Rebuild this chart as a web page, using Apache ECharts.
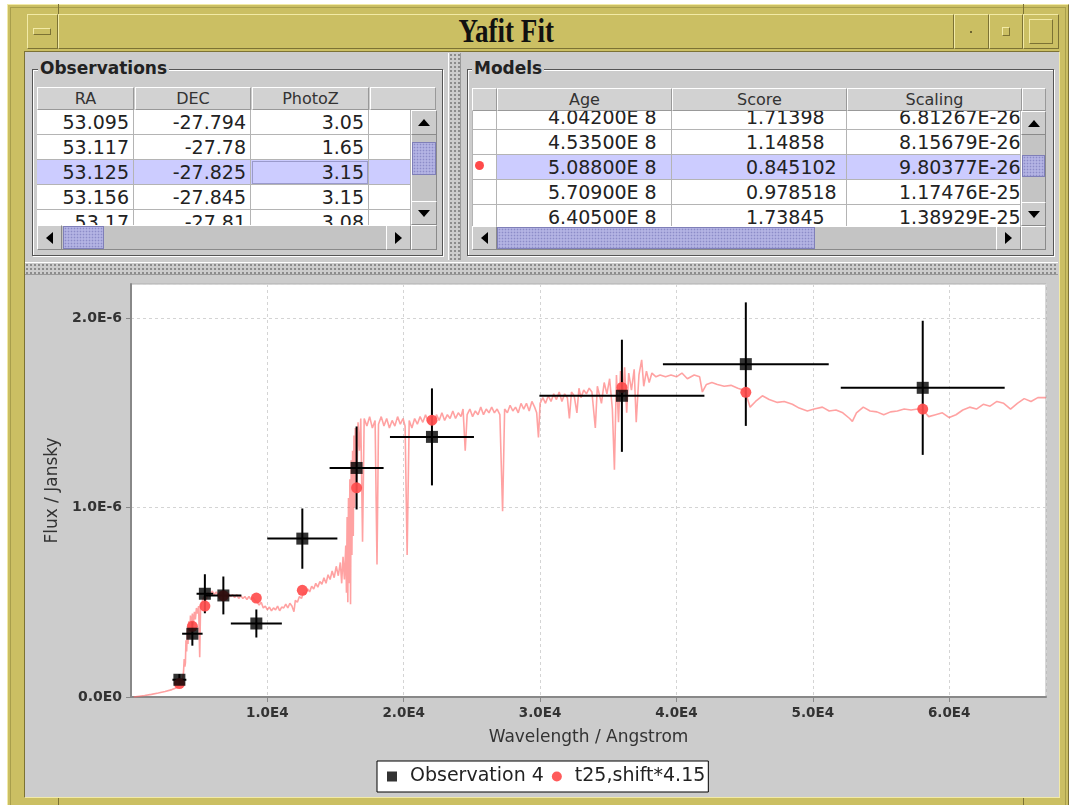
<!DOCTYPE html>
<html>
<head>
<meta charset="utf-8">
<title>Yafit Fit</title>
<script src="https://cdn.jsdelivr.net/npm/echarts@6/dist/echarts.min.js"></script>
<style>
html,body{margin:0;padding:0;width:1072px;height:805px;overflow:hidden;background:#fff;font-family:'DejaVu Sans',sans-serif;}
.a{position:absolute;box-sizing:border-box;}
.olive{background:#cbbf63;}
.oup{border-top:1px solid #f2eaa6;border-left:1px solid #f2eaa6;border-bottom:1px solid #7c7234;border-right:1px solid #7c7234;}
.up{border-top:1px solid #fff;border-left:1px solid #fff;border-bottom:1px solid #8a8a8a;border-right:1px solid #8a8a8a;background:#cccccc;}
.hdr{border-top:1px solid #fff;border-left:1px solid #fff;border-bottom:1px solid #999;border-right:1px solid #999;background:#d2d2d2;color:#333;font-size:16px;line-height:21px;text-align:center;overflow:hidden;white-space:nowrap;}
.cell{border-right:1px solid #b4b4b4;border-bottom:1px solid #b4b4b4;font-size:19px;line-height:25px;color:#222;white-space:nowrap;overflow:hidden;}
.etched{border:1px solid #555;box-shadow:inset 1px 1px 0 #fff,1px 1px 0 #fff;}
.legendTitle{font-weight:bold;font-size:17px;color:#222;background:#cccccc;padding:0 2px;line-height:18px;}
.thumb{background-color:#b3b3e3;border:1px solid #7f7fb8;background-image:radial-gradient(circle,#8c8cc8 0.7px,transparent 1.1px);background-size:3px 3px;}
.grip{background-color:#cccccc;background-image:radial-gradient(circle,#8a8a8a 0.7px,transparent 1.1px);background-size:4px 4px;}
.tri-up{width:0;height:0;border-left:6px solid transparent;border-right:6px solid transparent;border-bottom:7px solid #000;}
.tri-dn{width:0;height:0;border-left:6px solid transparent;border-right:6px solid transparent;border-top:7px solid #000;}
.tri-l{width:0;height:0;border-top:6px solid transparent;border-bottom:6px solid transparent;border-right:7px solid #000;}
.tri-r{width:0;height:0;border-top:6px solid transparent;border-bottom:6px solid transparent;border-left:7px solid #000;}
</style>
</head>
<body>
<div id="ui"></div>
<div id="plot" class="a" style="left:25px;top:276px;width:1034px;height:521px;background:#cccccc;"></div>
<script>
// ---- table contents ----
const obsColumns = ['RA', 'DEC', 'PhotoZ', ''];
const obsRows = [
  ['53.095', '-27.794', '3.05'],
  ['53.117', '-27.78', '1.65'],
  ['53.125', '-27.825', '3.15'],
  ['53.156', '-27.845', '3.15'],
  ['53.17', '-27.81', '3.08']
];
const modelColumns = ['Age', 'Score', 'Scaling'];
const modelRows = [
  ['4.04200E 8', '1.71398', '6.81267E-26'],
  ['4.53500E 8', '1.14858', '8.15679E-26'],
  ['5.08800E 8', '0.845102', '9.80377E-26'],
  ['5.70900E 8', '0.978518', '1.17476E-25'],
  ['6.40500E 8', '1.73845', '1.38929E-25']
];
const selectedRow = 2;

// ---- photometry: wavelength (Angstrom), flux (1E-6 Jansky) ----
const obsWave    = [3548, 4500, 5417, 6773, 9192, 12564, 16544, 22070, 36000, 45087, 58060];
const obsFlux    = [0.091, 0.334, 0.545, 0.536, 0.388, 0.836, 1.209, 1.373, 1.590, 1.757, 1.632];
const obsWaveErr = [510, 750, 610, 1320, 1870, 2570, 1980, 3080, 6050, 6080, 6010];
const obsFluxErr = [0.03, 0.063, 0.103, 0.10, 0.074, 0.159, 0.219, 0.256, 0.296, 0.326, 0.354];
const modelFlux  = [0.071, 0.373, 0.48, 0.535, 0.522, 0.563, 1.104, 1.461, 1.634, 1.608, 1.52];

// model spectrum t25 (shifted, scaled): [wavelength, flux]
const spectrum = [
  [200,0.000],[600,0.004],[1000,0.008],[1500,0.014],[2000,0.021],[2500,0.029],[3000,0.039],[3300,0.047],
  [3500,0.060],[3650,0.072],[3780,0.090],[3850,0.13],[3900,0.20],[3950,0.16],[3990,0.18],[4030,0.30],
  [4080,0.24],[4130,0.36],[4180,0.28],[4240,0.40],[4300,0.31],[4360,0.43],[4420,0.34],[4500,0.44],
  [4570,0.38],[4650,0.45],[4720,0.41],[4800,0.47],[4880,0.44],[4960,0.48],[5040,0.21],[5100,0.47],
  [5200,0.50],[5350,0.53],[5500,0.51],[5650,0.55],[5800,0.53],[5950,0.56],[6100,0.54],[6250,0.555],
  [6400,0.535],[6550,0.55],[6700,0.53],[6850,0.545],[7000,0.525],[7150,0.545],[7300,0.53],[7450,0.54],
  [7600,0.525],[7750,0.54],[7900,0.52],[8050,0.535],[8200,0.52],[8350,0.53],[8500,0.515],[8650,0.53],
  [8800,0.515],[8950,0.525],[9100,0.51],[9250,0.50],[9400,0.485],[9550,0.50],[9700,0.47],[9850,0.48],
  [10000,0.46],[10150,0.475],[10300,0.455],[10450,0.47],[10600,0.46],[10750,0.48],[10900,0.455],[11050,0.475],
  [11200,0.47],[11350,0.49],[11500,0.47],[11650,0.495],[11800,0.48],[11950,0.45],[12050,0.51],[12200,0.50],
  [12350,0.53],[12500,0.52],[12650,0.55],[12800,0.545],[12950,0.57],[13100,0.555],[13250,0.585],[13400,0.57],
  [13550,0.60],[13700,0.58],[13850,0.61],[14000,0.595],[14150,0.63],[14300,0.60],[14450,0.645],[14600,0.62],
  [14750,0.665],[14900,0.63],[15050,0.69],[15200,0.64],[15350,0.71],[15450,0.60],[15550,0.74],[15650,0.62],
  [15750,0.80],[15800,0.55],[15850,0.95],[15900,0.50],[15950,1.05],[16000,0.60],[16050,1.15],[16100,0.49],
  [16150,1.25],[16200,0.75],[16250,1.30],[16300,0.85],[16350,1.38],[16400,1.00],[16450,1.42],[16550,1.10],
  [16650,1.45],[16750,1.30],[16850,1.47],[16980,0.82],[17100,1.47],[17300,1.43],[17500,1.48],[17700,1.42],
  [17900,1.46],[18040,0.70],[18150,1.44],[18350,1.48],[18550,1.43],[18750,1.47],[18950,1.42],[19150,1.46],
  [19350,1.43],[19550,1.48],[19750,1.44],[19950,1.47],[20100,1.43],[20250,0.75],[20400,1.46],[20600,1.42],
  [20800,1.47],[21000,1.44],[21200,1.48],[21400,1.45],[21600,1.49],[21800,1.45],[22000,1.48],[22200,1.44],
  [22400,1.49],[22600,1.46],[22800,1.50],[23000,1.46],[23200,1.49],[23400,1.47],[23600,1.51],[23800,1.47],
  [24000,1.50],[24200,1.48],[24350,1.52],[24510,1.30],[24650,1.49],[24850,1.52],[25050,1.48],[25250,1.51],
  [25450,1.49],[25650,1.53],[25850,1.49],[26050,1.52],[26250,1.50],[26450,1.53],[26650,1.50],[26850,1.52],
  [27050,1.49],[27250,0.98],[27400,1.52],[27600,1.50],[27800,1.54],[28000,1.51],[28200,1.53],[28400,1.50],
  [28600,1.55],[28800,1.52],[29000,1.55],[29200,1.51],[29400,1.56],[29600,1.53],[29750,1.50],[29880,1.37],
  [30000,1.55],[30200,1.58],[30400,1.55],[30600,1.59],[30800,1.56],[31000,1.60],[31200,1.57],[31400,1.61],
  [31600,1.56],[31800,1.60],[32000,1.58],[32150,1.47],[32300,1.61],[32500,1.59],[32700,1.50],[32850,1.63],
  [33000,1.58],[33200,1.62],[33400,1.60],[33600,1.63],[33800,1.61],[34050,1.42],[34200,1.64],[34500,1.55],
  [34700,1.66],[34900,1.60],[35100,1.68],[35300,1.52],[35450,1.20],[35600,1.70],[35750,1.45],[35900,1.72],
  [36050,1.58],[36200,1.74],[36350,1.50],[36500,1.71],[36700,1.62],[36900,1.73],[37050,1.45],[37250,1.70],
  [37450,1.78],[37600,1.64],[37800,1.72],[38000,1.66],[38200,1.71],[38500,1.69],[38800,1.70],[39200,1.69],
  [39600,1.70],[40000,1.69],[40400,1.71],[40800,1.68],[41300,1.70],[41700,1.69],[41900,1.61],[42200,1.65],
  [42600,1.66],[43000,1.65],[43500,1.64],[44000,1.645],[44500,1.63],[44900,1.62],[45100,1.60],[45400,1.53],
  [45800,1.56],[46300,1.59],[46800,1.57],[47400,1.555],[47900,1.56],[48500,1.545],[49000,1.525],[49600,1.51],
  [50100,1.52],[50700,1.53],[51200,1.51],[51700,1.515],[52200,1.50],[52700,1.47],[52900,1.455],[53200,1.50],
  [53700,1.53],[54200,1.51],[54700,1.505],[55200,1.49],[55700,1.505],[56200,1.51],[56700,1.52],[57200,1.515],
  [57700,1.52],[58100,1.513],[58500,1.48],[59000,1.49],[59500,1.50],[60000,1.475],[60500,1.49],[61000,1.515],
  [61500,1.53],[62000,1.52],[62500,1.545],[63000,1.535],[63500,1.56],[64000,1.55],[64500,1.52],[65000,1.55],
  [65500,1.575],[66000,1.56],[66500,1.58],[67100,1.58]
];

const xTicks = { min: 0, max: 67100, step: 10000 };
const yTicks = { min: 0, max: 2.18, step: 1 };

// ---- window decoration and tables (plain DOM) ----
const ui = document.getElementById('ui');
function box(x, y, w, h, cls, css, html) {
  const d = document.createElement('div');
  d.className = 'a ' + (cls || '');
  d.style.left = x + 'px'; d.style.top = y + 'px';
  d.style.width = w + 'px'; d.style.height = h + 'px';
  if (css) d.style.cssText += css;
  if (html !== undefined) d.innerHTML = html;
  (box.parent || ui).appendChild(d);
  return d;
}
function arrow(x, y, w, h, dir) {
  const b = box(x, y, w, h, 'up');
  const t = document.createElement('div');
  t.className = 'a tri-' + dir;
  const tw = (dir === 'up' || dir === 'dn') ? 12 : 7;
  const th = (dir === 'up' || dir === 'dn') ? 7 : 12;
  t.style.left = Math.round((w - 2 - tw) / 2) + 'px';
  t.style.top = Math.round((h - 2 - th) / 2) + 'px';
  b.appendChild(t);
  return b;
}

// outer frame
box(7, 4, 1062, 806, 'olive oup');
box(10, 7, 1056, 800, 'olive', 'border:1px solid #a89e4c;');
// title bar and buttons
box(27, 14, 31, 35, 'olive oup');
box(33, 28, 18, 7, 'olive oup');
box(58, 14, 896, 35, 'olive oup');
const tt = box(58, 14, 896, 35, '', 'text-align:center;');
tt.innerHTML = '<span style="display:inline-block;font-family:\'Liberation Serif\',serif;font-weight:bold;font-size:33px;line-height:35px;color:#111;transform:scaleX(0.82);">Yafit Fit</span>';
box(954, 14, 35, 35, 'olive oup');
box(970, 31, 2, 2, '', 'background:#6d6430;');
box(989, 14, 34, 35, 'olive oup');
box(1002, 27, 8, 9, 'olive oup');
box(1023, 14, 36, 35, 'olive oup');
box(1029, 19, 24, 25, 'olive oup');
// frame notches
box(58, 4, 1, 10, '', 'background:#7c7234;');
box(1023, 4, 1, 10, '', 'background:#7c7234;');
box(58, 797, 1, 10, '', 'background:#7c7234;');
box(1023, 797, 1, 10, '', 'background:#7c7234;');

// content pane
box(24, 51, 1036, 747, '', 'background:#cccccc;border-top:1px solid #7c7234;border-left:1px solid #7c7234;border-bottom:1px solid #f2eaa6;border-right:1px solid #f2eaa6;');

// splitters
box(448, 53, 13, 207, 'grip', 'border-left:1px solid #fff;border-right:1px solid #999;');
box(25, 262, 1033, 13, 'grip', 'border-top:1px solid #fff;border-bottom:1px solid #999;');

// ---- Observations panel ----
box(32, 69, 411, 187, 'etched');
box(38, 59, 0, 20, '', 'width:auto;', '<span class="legendTitle">Observations</span>');

const obsHdr = [[37, 97], [135, 116], [252, 117], [370, 66]];
obsHdr.forEach((c, i) => box(c[0], 87, c[1], 23, 'hdr', '', obsColumns[i]));
const obsView = box(37, 110, 374, 115, '', 'overflow:hidden;background:#fff;');
const obsCols = [[0, 97], [97, 117], [214, 118], [332, 42]];
box.parent = obsView;
obsRows.forEach((r, ri) => {
  const sel = ri === selectedRow;
  obsCols.forEach((c, ci) => {
    const txt = ci < r.length ? r[ci] : '';
    let css = 'text-align:right;padding-right:4px;background:' + (sel ? '#ccccff' : '#fff') + ';';
    if (sel && ci === 2) css += 'outline:1px solid #9a9acc;outline-offset:-2px;';
    box(c[0], ri * 25, c[1], 25, 'cell', css, txt);
  });
});
box.parent = null;
// scrollbars
box(411, 110, 26, 115, 'up', 'background:#c4c4c4;');
arrow(411, 110, 26, 25, 'up');
box(412, 142, 24, 33, 'thumb');
arrow(411, 201, 26, 24, 'dn');
box(37, 225, 374, 25, 'up', 'background:#c4c4c4;');
arrow(37, 225, 25, 25, 'l');
box(63, 226, 41, 23, 'thumb');
arrow(386, 225, 25, 25, 'r');
box(411, 225, 26, 25, 'up');

// ---- Models panel ----
box(467, 69, 587, 187, 'etched');
box(472, 59, 0, 20, '', 'width:auto;', '<span class="legendTitle">Models</span>');

box(472, 88, 25, 23, 'hdr');
const modHdr = [[497, 175], [672, 175], [847, 175], [1022, 24]];
modHdr.forEach((c, i) => box(c[0], 88, c[1], 23, 'hdr', '', modelColumns[i] || ''));
const rhView = box(472, 111, 25, 115, '', 'overflow:hidden;background:#fff;');
const modView = box(497, 111, 524, 115, '', 'overflow:hidden;background:#fff;');
const modCols = [[0, 175, 51], [175, 175, 74], [350, 174, 52]];
box.parent = rhView;
modelRows.forEach((r, ri) => {
  box(0, ri * 25 - 6, 25, 25, 'cell', 'border-left:1px solid #b4b4b4;');
});
box(3, selectedRow * 25 - 6 + 6, 9, 9, '', 'border-radius:50%;background:#ff4a4a;');
box.parent = modView;
modelRows.forEach((r, ri) => {
  const sel = ri === selectedRow;
  modCols.forEach((c, ci) => {
    box(c[0], ri * 25 - 6, c[1], 25, 'cell',
      'text-align:left;padding-left:' + c[2] + 'px;background:' + (sel ? '#ccccff' : '#fff') + ';', r[ci]);
  });
});
box.parent = null;
box(1021, 111, 25, 115, 'up', 'background:#c4c4c4;');
arrow(1021, 111, 25, 24, 'up');
box(1022, 155, 23, 22, 'thumb');
arrow(1021, 202, 25, 24, 'dn');
box(472, 226, 549, 24, 'up', 'background:#c4c4c4;');
arrow(472, 226, 25, 24, 'l');
box(497, 227, 318, 22, 'thumb');
arrow(996, 226, 25, 24, 'r');
box(1021, 226, 25, 24, 'up');

// ---- spectrum plot ----
const chart = echarts.init(document.getElementById('plot'), null, { renderer: 'canvas' });

const errData = obsWave.map((w, i) => [w, obsFlux[i], obsWaveErr[i], obsFluxErr[i]]);
const obsData = obsWave.map((w, i) => [w, obsFlux[i]]);
const modelData = obsWave.map((w, i) => [w, modelFlux[i]]);

chart.setOption({
  animation: false,
  backgroundColor: '#cccccc',
  grid: {
    left: 106, right: 13, top: 8, bottom: 100,
    show: true, backgroundColor: '#ffffff', borderColor: '#b0b0b0', borderWidth: 1
  },
  legend: {
    left: 352, top: 485,
    data: [{ name: 'Observation 4', icon: 'rect' }, { name: 't25,shift*4.15', icon: 'circle' }],
    itemWidth: 10, itemHeight: 10, itemGap: 8,
    backgroundColor: '#ffffff', borderColor: '#000', borderWidth: 1, borderRadius: 0,
    padding: [6, 3, 6, 10],
    textStyle: { fontFamily: 'DejaVu Sans', fontSize: 19, color: '#222', padding: [0, 0, 0, 8] }
  },
  xAxis: {
    type: 'value', min: xTicks.min, max: xTicks.max, interval: xTicks.step,
    name: 'Wavelength / Angstrom', nameLocation: 'middle', nameGap: 32,
    nameTextStyle: { fontFamily: 'DejaVu Sans', fontSize: 17, color: '#333' },
    axisLine: { lineStyle: { color: '#888', width: 2 } },
    axisTick: { show: true, length: 5, lineStyle: { color: '#888' } },
    axisLabel: { margin: 9, showMinLabel: false, showMaxLabel: false,
      fontFamily: 'DejaVu Sans', fontSize: 13.5, fontWeight: 'bold', color: '#333',
      formatter: v => (v / 10000).toFixed(1) + 'E4' },
    splitLine: { show: true, lineStyle: { color: '#d4d4d4', type: [3, 3], width: 1 } }
  },
  yAxis: {
    type: 'value', min: yTicks.min, max: yTicks.max, interval: yTicks.step,
    name: 'Flux / Jansky', nameLocation: 'middle', nameGap: 61, nameRotate: 90,
    nameTextStyle: { fontFamily: 'DejaVu Sans', fontSize: 17, color: '#333' },
    axisLine: { show: true, lineStyle: { color: '#888', width: 2 } },
    axisTick: { show: true, length: 5, lineStyle: { color: '#888' } },
    axisLabel: { margin: 9, showMaxLabel: false,
      fontFamily: 'DejaVu Sans', fontSize: 14, fontWeight: 'bold', color: '#333',
      formatter: v => v === 0 ? '0.0E0' : v.toFixed(1) + 'E-6' },
    splitLine: { show: true, lineStyle: { color: '#d4d4d4', type: [3, 3], width: 1 } }
  },
  series: [
    {
      name: 'spectrum', type: 'line', data: spectrum, showSymbol: false, symbol: 'none',
      sampling: null, z: 1,
      lineStyle: { color: 'rgba(255,105,105,0.62)', width: 1.6 }
    },
    {
      name: 'errors', type: 'custom', data: errData, z: 2,
      renderItem: (params, api) => {
        const x = api.value(0), y = api.value(1), dx = api.value(2), dy = api.value(3);
        const l = api.coord([x - dx, y]), r = api.coord([x + dx, y]);
        const t = api.coord([x, y + dy]), b = api.coord([x, y - dy]);
        const st = { stroke: '#000', lineWidth: 2 };
        return {
          type: 'group', children: [
            { type: 'line', shape: { x1: l[0], y1: l[1], x2: r[0], y2: r[1] }, style: st },
            { type: 'line', shape: { x1: b[0], y1: b[1], x2: t[0], y2: t[1] }, style: st }
          ]
        };
      }
    },
    {
      name: 't25,shift*4.15', type: 'scatter', data: modelData, symbol: 'circle', symbolSize: 11, z: 3,
      itemStyle: { color: '#ff4d4d', opacity: 0.92 }
    },
    {
      name: 'Observation 4', type: 'scatter', data: obsData, symbol: 'rect', symbolSize: 12, z: 4,
      itemStyle: { color: '#000' }
    }
  ]
});
</script>
</body>
</html>
